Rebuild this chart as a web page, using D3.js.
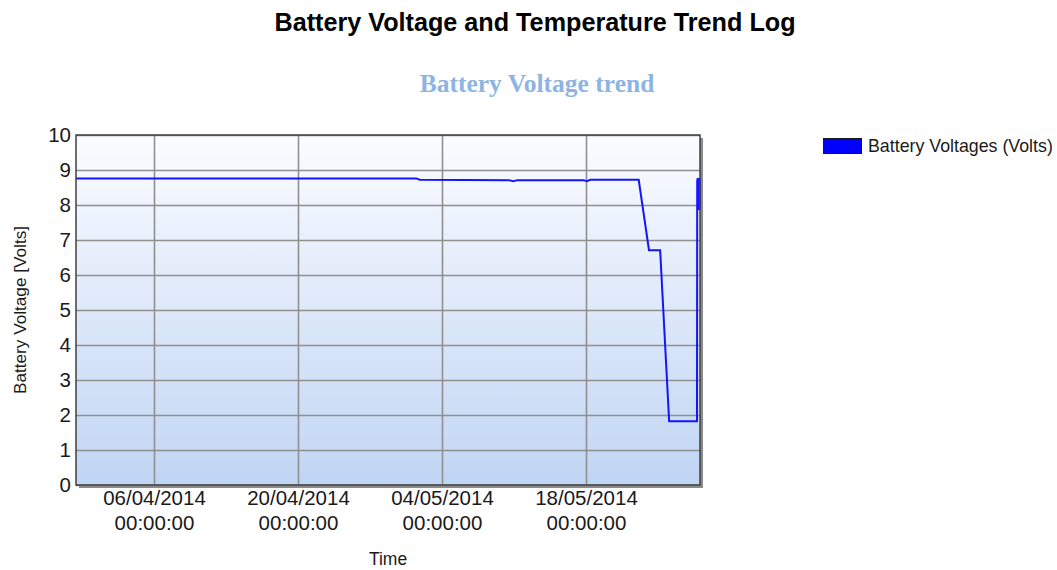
<!DOCTYPE html>
<html>
<head>
<meta charset="utf-8">
<script src="https://cdn.jsdelivr.net/npm/d3@7"></script>
<style>
  html, body { margin: 0; padding: 0; background: #ffffff; }
  svg { display: block; font-family: "Liberation Sans", Arial, sans-serif; }
</style>
</head>
<body>
<svg id="chart" width="1057" height="570"></svg>
<script>
// Logged samples: timestamp and battery voltage
const timestamps = [
  "2014-03-29 10:00", "2014-04-15 00:00", "2014-04-30 12:00", "2014-05-01 12:00",
  "2014-05-01 20:00", "2014-05-10 12:00", "2014-05-10 22:00", "2014-05-11 08:00",
  "2014-05-17 18:00", "2014-05-18 02:00", "2014-05-18 10:00", "2014-05-23 03:00",
  "2014-05-24 03:00", "2014-05-25 05:00", "2014-05-26 02:00", "2014-05-28 19:00",
  "2014-05-28 19:30", "2014-05-28 20:00", "2014-05-28 20:30", "2014-05-28 21:00",
  "2014-05-28 21:30", "2014-05-28 22:00", "2014-05-28 22:30", "2014-05-28 23:00",
  "2014-05-28 23:30", "2014-05-29 00:00", "2014-05-29 00:30", "2014-05-29 01:00",
  "2014-05-29 01:30", "2014-05-29 02:00"
];
const volts = [
  8.76, 8.76, 8.76, 8.76,
  8.72, 8.71, 8.68, 8.71,
  8.71, 8.68, 8.72, 8.72,
  6.71, 6.71, 1.82, 1.82,
  8.72, 7.86, 8.77, 7.88,
  8.76, 7.86, 8.77, 7.87,
  8.76, 7.86, 8.77, 7.88,
  8.76, 7.90
];

const yTicks = [0, 1, 2, 3, 4, 5, 6, 7, 8, 9, 10];
const xTicks = ["2014-04-06 00:00", "2014-04-20 00:00", "2014-05-04 00:00", "2014-05-18 00:00"];

const chartTitle = "Battery Voltage and Temperature Trend Log";
const plotTitle = "Battery Voltage trend";
const seriesName = "Battery Voltages (Volts)";
const xAxisTitle = "Time";
const yAxisTitle = "Battery Voltage [Volts]";

const parse = d3.timeParse("%Y-%m-%d %H:%M");
const data = timestamps.map((t, i) => ({ t: parse(t), v: volts[i] }));

const svg = d3.select("#chart");
const plot = { left: 76, top: 135, right: 700, bottom: 485 };

const x = d3.scaleTime()
  .domain(d3.extent(data, d => d.t))
  .range([plot.left, plot.right]);
const y = d3.scaleLinear()
  .domain([0, 10])
  .range([plot.bottom, plot.top]);

// Background gradient for the plot area
const defs = svg.append("defs");
const grad = defs.append("linearGradient")
  .attr("id", "plotBg").attr("x1", 0).attr("y1", 0).attr("x2", 0).attr("y2", 1);
grad.append("stop").attr("offset", "0%").attr("stop-color", "#fbfcff");
grad.append("stop").attr("offset", "100%").attr("stop-color", "#c0d5f4");

// Drop shadow behind the plot frame
svg.append("rect")
  .attr("x", plot.left + 3).attr("y", plot.top + 3)
  .attr("width", plot.right - plot.left).attr("height", plot.bottom - plot.top)
  .attr("fill", "#8a8a8a");

svg.append("rect")
  .attr("x", plot.left).attr("y", plot.top)
  .attr("width", plot.right - plot.left).attr("height", plot.bottom - plot.top)
  .attr("fill", "url(#plotBg)");

// Gridlines
const gridColor = "#8f8f8f";
svg.append("g")
  .attr("transform", `translate(${plot.left},0)`)
  .call(d3.axisLeft(y).tickValues(yTicks).tickSize(-(plot.right - plot.left)).tickFormat(""))
  .call(g => g.select(".domain").remove())
  .call(g => g.selectAll("line").attr("stroke", gridColor).attr("stroke-width", 1.6));

const xTickDates = xTicks.map(parse);
svg.append("g")
  .attr("transform", `translate(0,${plot.bottom})`)
  .call(d3.axisBottom(x).tickValues(xTickDates).tickSize(-(plot.bottom - plot.top)).tickFormat(""))
  .call(g => g.select(".domain").remove())
  .call(g => g.selectAll("line").attr("stroke", gridColor).attr("stroke-width", 1.6));

// Voltage series
const line = d3.line().x(d => x(d.t)).y(d => y(d.v));
svg.append("path")
  .datum(data)
  .attr("fill", "none")
  .attr("stroke", "#1414ff")
  .attr("stroke-width", 2)
  .attr("stroke-linejoin", "miter")
  .attr("d", line);

// Plot frame
svg.append("rect")
  .attr("x", plot.left).attr("y", plot.top)
  .attr("width", plot.right - plot.left).attr("height", plot.bottom - plot.top)
  .attr("fill", "none").attr("stroke", "#404040").attr("stroke-width", 1.5);

// Y axis labels
const yAxis = svg.append("g")
  .attr("transform", `translate(${plot.left},0)`)
  .call(d3.axisLeft(y).tickValues(yTicks).tickSize(0).tickPadding(5).tickFormat(d3.format("d")));
yAxis.select(".domain").remove();
yAxis.selectAll("text")
  .attr("font-family", "'Liberation Sans', Arial, sans-serif")
  .attr("font-size", 20.5).attr("fill", "#1a1a1a");

// X axis labels: date on the first line, time on the second
const fmtDate = d3.timeFormat("%d/%m/%Y");
const fmtTime = d3.timeFormat("%H:%M:%S");
const xAxis = svg.append("g")
  .attr("transform", `translate(0,${plot.bottom})`)
  .call(d3.axisBottom(x).tickValues(xTickDates).tickSize(0).tickFormat(""));
xAxis.select(".domain").remove();
xAxis.selectAll(".tick").each(function (d) {
  const t = d3.select(this).append("text")
    .attr("text-anchor", "middle")
    .attr("font-family", "'Liberation Sans', Arial, sans-serif")
    .attr("font-size", 20.5).attr("fill", "#1a1a1a");
  t.append("tspan").attr("x", 0).attr("y", 20).text(fmtDate(d));
  t.append("tspan").attr("x", 0).attr("y", 45).text(fmtTime(d));
});

// Axis titles
svg.append("text")
  .attr("x", 388).attr("y", 565)
  .attr("text-anchor", "middle").attr("font-size", 17.5).attr("fill", "#1a1a1a")
  .text(xAxisTitle);
svg.append("text")
  .attr("transform", `translate(26,${(plot.top + plot.bottom) / 2}) rotate(-90)`)
  .attr("text-anchor", "middle").attr("font-size", 17.2).attr("fill", "#1a1a1a")
  .text(yAxisTitle);

// Titles
svg.append("text")
  .attr("x", 535).attr("y", 31)
  .attr("text-anchor", "middle").attr("font-size", 25.2).attr("font-weight", "bold")
  .attr("fill", "#000000")
  .text(chartTitle);
svg.append("text")
  .attr("x", 537).attr("y", 92)
  .attr("text-anchor", "middle")
  .attr("font-family", "'Liberation Serif', 'Times New Roman', serif")
  .attr("font-size", 25.5).attr("font-weight", "bold")
  .attr("fill", "#8db4e2")
  .text(plotTitle);

// Legend
const legend = svg.append("g").attr("transform", "translate(823,138)");
legend.append("rect")
  .attr("x", 0.5).attr("y", 0.5).attr("width", 38).attr("height", 15)
  .attr("fill", "#0000ff").attr("stroke", "#1a1a1a").attr("stroke-width", 1);
legend.append("text")
  .attr("x", 45).attr("y", 14)
  .attr("font-size", 17.8).attr("fill", "#1a1a1a")
  .text(seriesName);
</script>
</body>
</html>
